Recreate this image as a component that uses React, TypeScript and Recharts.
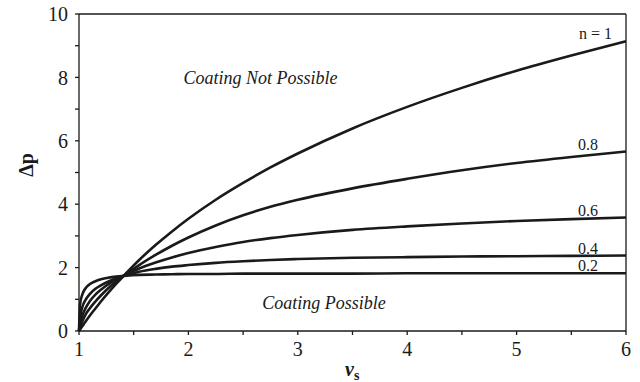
import { LineChart, Line, XAxis, YAxis, ReferenceLine, ReferenceDot } from 'recharts';

const vs = [1, 1.01, 1.03, 1.06, 1.1, 1.15, 1.2, 1.3, 1.414, 1.55, 1.7, 1.85, 2, 2.25, 2.5, 2.75, 3, 3.5, 4, 4.5, 5, 5.5, 6];

const n10 = [0, 0.05, 0.15, 0.3, 0.49, 0.71, 0.93, 1.34, 1.76, 2.24, 2.71, 3.14, 3.54, 4.14, 4.67, 5.16, 5.6, 6.39, 7.07, 7.67, 8.21, 8.69, 9.14];
const n08 = [0, 0.12, 0.3, 0.52, 0.72, 0.93, 1.12, 1.45, 1.75, 2.08, 2.4, 2.69, 2.95, 3.33, 3.65, 3.92, 4.14, 4.5, 4.8, 5.07, 5.3, 5.49, 5.66];
const n06 = [0, 0.22, 0.48, 0.72, 0.95, 1.15, 1.3, 1.55, 1.75, 1.97, 2.16, 2.32, 2.46, 2.65, 2.81, 2.93, 3.03, 3.19, 3.3, 3.39, 3.47, 3.53, 3.58];
const n04 = [0, 0.4, 0.75, 0.98, 1.17, 1.33, 1.44, 1.61, 1.75, 1.87, 1.96, 2.03, 2.08, 2.15, 2.2, 2.24, 2.27, 2.31, 2.33, 2.35, 2.36, 2.37, 2.38];
const n02 = [0, 0.85, 1.15, 1.35, 1.48, 1.57, 1.63, 1.7, 1.74, 1.77, 1.78, 1.79, 1.8, 1.8, 1.81, 1.81, 1.81, 1.81, 1.82, 1.82, 1.82, 1.82, 1.82];

const series = [
  { key: 'n10', values: n10, label: 'n = 1', shift: 14 },
  { key: 'n08', values: n08, label: '0.8', shift: 28 },
  { key: 'n06', values: n06, label: '0.6', shift: 28 },
  { key: 'n04', values: n04, label: '0.4', shift: 28 },
  { key: 'n02', values: n02, label: '0.2', shift: 28 },
];

const xTicks = [1, 1.5, 2, 2.5, 3, 3.5, 4, 4.5, 5, 5.5, 6];
const yTicks = [0, 1, 2, 3, 4, 5, 6, 7, 8, 9, 10];

const data = vs.map((v, i) => {
  const row: Record<string, number> = { v };
  series.forEach((s) => (row[s.key] = s.values[i]));
  return row;
});

const FONT = 'Liberation Serif, Times New Roman, DejaVu Serif, serif';
const INK = '#1a1a1a';
const last = vs.length - 1;

const tickStyle = { fontFamily: FONT, fontSize: 20, fill: INK, style: { fontFamily: FONT } };

function endLabel(text: string, shift: number) {
  return (p: any) => {
    if (p.index !== last) return null;
    return (
      <text
        x={p.x - shift}
        y={p.y - 2}
        textAnchor="end"
        fontFamily={FONT}
        style={{ fontFamily: FONT }}
        fontSize={16}
        fill={INK}
      >
        {text}
      </text>
    );
  };
}

const areaText = {
  position: 'center' as const,
  fontFamily: FONT,
  fontStyle: 'italic',
  fontSize: 18,
  fill: INK,
  style: { fontFamily: FONT, fontStyle: 'italic' },
};

export default function App() {
  return (
    <div style={{ position: 'absolute', left: 0, top: 0, background: '#fff', fontFamily: FONT }}>
      <LineChart
        width={640}
        height={382}
        data={data}
        margin={{ top: 14, right: 14, bottom: 21, left: 19 }}
        style={{ fontFamily: FONT }}
      >
        <XAxis
          dataKey="v"
          type="number"
          domain={[1, 6]}
          ticks={xTicks}
          tickFormatter={(t: number) => (Number.isInteger(t) ? String(t) : '')}
          tick={tickStyle}
          tickSize={4}
          tickMargin={7}
          stroke={INK}
          strokeWidth={1.3}
          height={30}
          label={{
            content: () => (
              <text x={345} y={376} fontFamily={FONT} style={{ fontFamily: FONT }} fontWeight="bold" fill={INK}>
                <tspan fontSize={20} fontStyle="italic">v</tspan>
                <tspan fontSize={14} dy={4}>s</tspan>
              </text>
            ),
          }}
        />
        <YAxis
          type="number"
          domain={[0, 10]}
          ticks={yTicks}
          tickFormatter={(t: number) => (t % 2 === 0 ? String(t) : '')}
          tick={tickStyle}
          tickSize={4}
          tickMargin={7}
          stroke={INK}
          strokeWidth={1.3}
          width={60}
          label={{
            content: () => (
              <text
                x={33}
                y={165}
                transform="rotate(-90 33 165)"
                textAnchor="middle"
                fontFamily={FONT}
                style={{ fontFamily: FONT }}
                fontWeight="bold"
                fontSize={20}
                fill={INK}
              >
                Δp
              </text>
            ),
          }}
        />
        <ReferenceLine y={10} stroke={INK} strokeWidth={1.3} />
        <ReferenceLine x={6} stroke={INK} strokeWidth={1.3} />
        <ReferenceDot x={2.66} y={7.98} r={0} fill="none" stroke="none" label={{ value: 'Coating Not Possible', ...areaText }} />
        <ReferenceDot x={3.24} y={0.91} r={0} fill="none" stroke="none" label={{ value: 'Coating Possible', ...areaText }} />
        {series.map((s) => (
          <Line
            key={s.key}
            dataKey={s.key}
            type="monotone"
            stroke={INK}
            strokeWidth={2.6}
            dot={false}
            isAnimationActive={false}
            label={endLabel(s.label, s.shift)}
          />
        ))}
      </LineChart>
    </div>
  );
}
